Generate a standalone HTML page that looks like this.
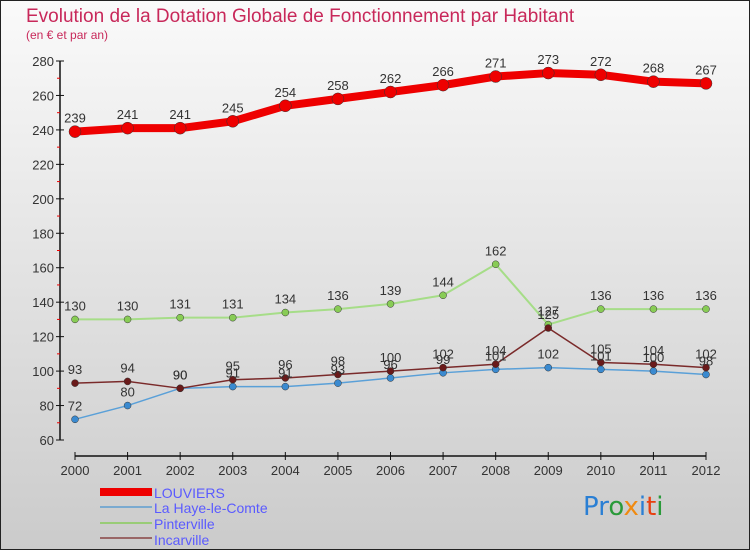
<!DOCTYPE html>
<html><head><meta charset="utf-8"><style>
body{margin:0}
#wrap{width:750px;height:550px;position:relative;overflow:hidden;font-family:"Liberation Sans",sans-serif}
</style></head><body>
<div id="wrap">
<svg id="svg" width="750" height="550" xmlns="http://www.w3.org/2000/svg">
<defs><linearGradient id="bg" x1="0" y1="0" x2="0" y2="1"><stop offset="0" stop-color="#fafafa"/><stop offset="1" stop-color="#cbcbcb"/></linearGradient></defs>
<rect x="0.5" y="0.5" width="749" height="549" fill="url(#bg)" stroke="#222"/>
<text x="26" y="22" font-size="19" fill="#c8285a">Evolution de la Dotation Globale de Fonctionnement par Habitant</text>
<text x="26" y="39" font-size="12" fill="#c8285a">(en € et par an)</text>
<g id="axes"></g><g id="series"></g><g id="labels"></g>
<g>
<rect x="100" y="488" width="52" height="8" fill="#ee0000"/>
<text x="154" y="498" font-size="14" fill="#5a5aff">LOUVIERS</text>
<rect x="100" y="506" width="52" height="2" fill="#7aaad0"/>
<text x="154" y="513" font-size="14" fill="#5a5aff">La Haye-le-Comte</text>
<rect x="100" y="522" width="52" height="2" fill="#99cc77"/>
<text x="154" y="529" font-size="14" fill="#5a5aff">Pinterville</text>
<rect x="100" y="537" width="52" height="2" fill="#996666"/>
<text x="154" y="545" font-size="14" fill="#5a5aff">Incarville</text>
</g>
<g font-size="26" font-family="'DejaVu Sans',sans-serif">
<text x="583" y="515"><tspan fill="#2a7fd4">Pr</tspan><tspan fill="#2a9a3a">o</tspan><tspan fill="#f08a10">x</tspan><tspan fill="#2a7fd4">i</tspan><tspan fill="#e84010">t</tspan><tspan fill="#2a9a3a">i</tspan></text>
</g>
</svg>
</div>
<script>
const years=[2000,2001,2002,2003,2004,2005,2006,2007,2008,2009,2010,2011,2012];
const louviers=[239,241,241,245,254,258,262,266,271,273,272,268,267];
const haye=[72,80,90,91,91,93,96,99,101,102,101,100,98];
const pinterville=[130,130,131,131,134,136,139,144,162,127,136,136,136];
const incarville=[93,94,90,95,96,98,100,102,104,125,105,104,102];
const yTicks=[60,80,100,120,140,160,180,200,220,240,260,280];
const NS="http://www.w3.org/2000/svg";
const x0=75,x1=706,yMin=60,yMax=280,py0=440,py1=61;
const xs=i=>x0+(x1-x0)*i/(years.length-1);
const ys=v=>py0-(v-yMin)*(py0-py1)/(yMax-yMin);
function mk(tag,attrs,parent){const e=document.createElementNS(NS,tag);for(const k in attrs)e.setAttribute(k,attrs[k]);parent.appendChild(e);return e;}
const axes=document.getElementById('axes'),ser=document.getElementById('series'),lab=document.getElementById('labels');
let ya=mk('line',{x1:60,y1:py1,x2:60,y2:py0,stroke:'#111','stroke-width':1.5},axes);


yTicks.forEach((t,i)=>{
  let l=mk('line',{x1:56,x2:64,y1:ys(t),y2:ys(t),stroke:'#111'},axes);
  
  
  let tx=mk('text',{x:54,y:ys(t)+5,'text-anchor':'end','font-size':13,fill:'#333'},axes);
  tx.textContent=t;
  
  
  if(i<yTicks.length-1){
    let m=mk('line',{x1:57,x2:60,y1:ys(t+10),y2:ys(t+10),stroke:'#e00'},axes);
    
    
  }
});
let xa=mk('line',{x1:x0,y1:456,x2:x1,y2:456,stroke:'#111','stroke-width':1.5},axes);


years.forEach((y,i)=>{
  let l=mk('line',{x1:xs(i),x2:xs(i),y1:452,y2:460,stroke:'#111'},axes);
  
  
  let tx=mk('text',{x:xs(i),y:475,'text-anchor':'middle','font-size':13,fill:'#333'},axes);
  tx.textContent=y;
  
  
});
function drawSeries(name,data,color,w,r,dot){
  const pts=data.map((v,i)=>xs(i)+','+ys(v)).join(' ');
  let p=mk('polyline',{points:pts,fill:'none',stroke:color,'stroke-width':w,'stroke-linejoin':'round'},ser);
  
  
  data.forEach((v,i)=>{
    let c=mk('circle',{cx:xs(i),cy:ys(v),r:r,fill:dot,stroke:'#333','stroke-width':0.5},ser);
    
    
    let t=mk('text',{x:xs(i),y:ys(v)-9,'text-anchor':'middle','font-size':13,fill:'#333'},lab);
    t.textContent=v;
    
    
  });
}
drawSeries('haye',haye,'#5aa0d8',1.5,3.5,'#3a8ad0');
drawSeries('pinterville',pinterville,'#a6dd88',2,3.5,'#88cc55');
drawSeries('incarville',incarville,'#7a2a2a',1.5,3.5,'#6a1a1a');
drawSeries('louviers',louviers,'#ee0000',8,6,'#ee0000');
</script>
</body></html>
